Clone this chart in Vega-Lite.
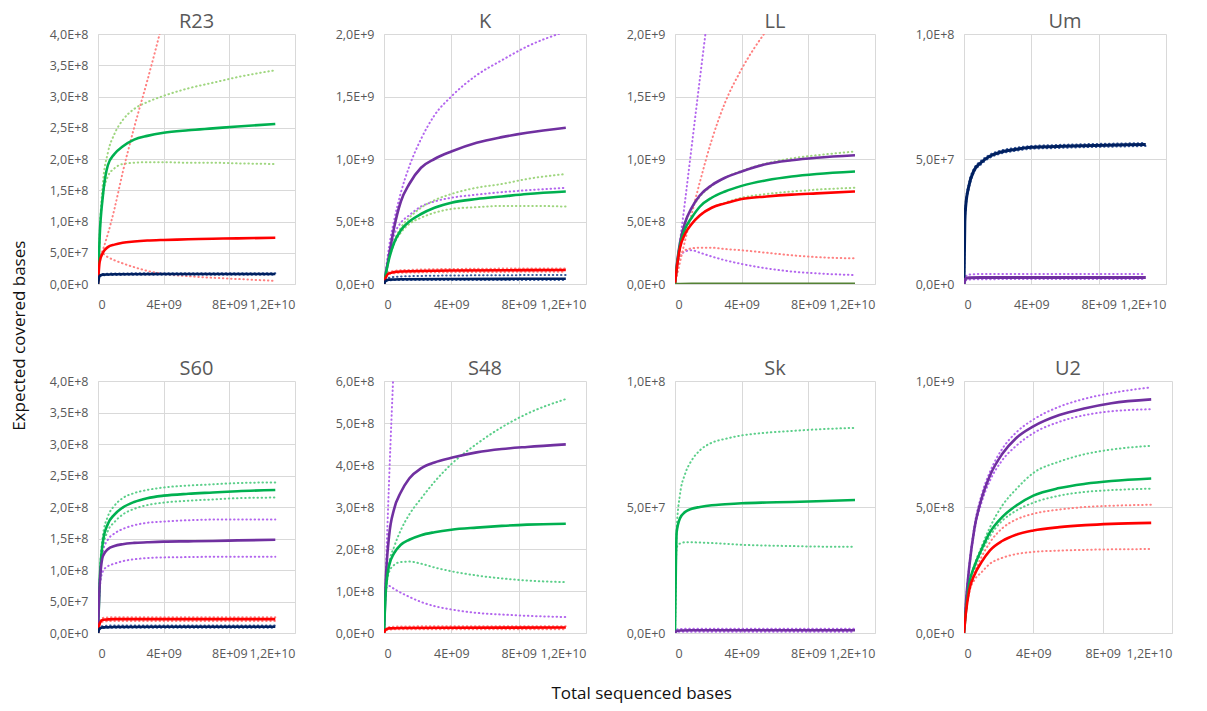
{
"$schema":"https://vega.github.io/schema/vega-lite/v6.json",
"padding":{"left":11,"top":12,"right":5,"bottom":5},
"config":{
 "font":"Open Sans",
 "view":{"stroke":null},
 "axis":{"grid":true,"gridColor":"#d9d9d9","domainColor":"#d9d9d9","ticks":false,"labelColor":"#595959","labelFont":"Open Sans","labelFontSize":12.5},
 "axisX":{"labelPadding":14},
 "axisY":{"labelPadding":10},
 "title":{"font":"Open Sans","fontSize":20,"fontWeight":"normal","color":"#595959","offset":-4}
},
"data":{"values":[
{"p":"R23","g":"green","x":0,"e":0,"h":0,"l":0},
{"p":"R23","g":"green","x":1e8,"e":0.75e8,"h":0.8e8,"l":0.75e8},
{"p":"R23","g":"green","x":3e8,"e":1.42e8,"h":1.62e8,"l":1.4e8},
{"p":"R23","g":"green","x":6e8,"e":1.9e8,"h":2.1e8,"l":1.72e8},
{"p":"R23","g":"green","x":1e9,"e":2.08e8,"h":2.4e8,"l":1.85e8},
{"p":"R23","g":"green","x":1.5e9,"e":2.2e8,"h":2.62e8,"l":1.92e8},
{"p":"R23","g":"green","x":2.2e9,"e":2.31e8,"h":2.8e8,"l":1.94e8},
{"p":"R23","g":"green","x":3e9,"e":2.37e8,"h":2.91e8,"l":1.95e8},
{"p":"R23","g":"green","x":4e9,"e":2.42e8,"h":3.01e8,"l":1.95e8},
{"p":"R23","g":"green","x":5.5e9,"e":2.46e8,"h":3.13e8,"l":1.94e8},
{"p":"R23","g":"green","x":7e9,"e":2.49e8,"h":3.22e8,"l":1.94e8},
{"p":"R23","g":"green","x":8.5e9,"e":2.52e8,"h":3.31e8,"l":1.93e8},
{"p":"R23","g":"green","x":1.08e10,"e":2.56e8,"h":3.42e8,"l":1.92e8},
{"p":"R23","g":"red","x":0,"e":0,"h":0,"l":0},
{"p":"R23","g":"red","x":1e8,"e":3.5e7,"h":4e7,"l":4.5e7},
{"p":"R23","g":"red","x":3e8,"e":5.0e7,"h":5.5e7,"l":4.8e7},
{"p":"R23","g":"red","x":6e8,"e":5.9e7,"h":8e7,"l":4.3e7},
{"p":"R23","g":"red","x":1e9,"e":6.3e7,"h":1.2e8,"l":3.8e7},
{"p":"R23","g":"red","x":1.5e9,"e":6.6e7,"h":1.78e8,"l":3.3e7},
{"p":"R23","g":"red","x":2.2e9,"e":6.8e7,"h":2.5e8,"l":2.7e7},
{"p":"R23","g":"red","x":3e9,"e":6.95e7,"h":3.25e8,"l":2.1e7},
{"p":"R23","g":"red","x":4e9,"e":7.05e7,"h":4.25e8,"l":1.6e7},
{"p":"R23","g":"red","x":5.5e9,"e":7.15e7,"h":null,"l":1.25e7},
{"p":"R23","g":"red","x":7e9,"e":7.25e7,"h":null,"l":1.0e7},
{"p":"R23","g":"red","x":8.5e9,"e":7.3e7,"h":null,"l":0.8e7},
{"p":"R23","g":"red","x":1.08e10,"e":7.4e7,"h":null,"l":0.5e7},
{"p":"R23","g":"navy","x":0,"e":0,"h":0,"l":0},
{"p":"R23","g":"navy","x":1e8,"e":1.3e7,"h":1.4e7,"l":1.2e7},
{"p":"R23","g":"navy","x":3e8,"e":1.5e7,"h":1.6e7,"l":1.4e7},
{"p":"R23","g":"navy","x":1e9,"e":1.55e7,"h":1.68e7,"l":1.45e7},
{"p":"R23","g":"navy","x":4e9,"e":1.6e7,"h":1.72e7,"l":1.48e7},
{"p":"R23","g":"navy","x":1.08e10,"e":1.6e7,"h":1.72e7,"l":1.48e7},

{"p":"K","g":"purple","x":0,"e":0,"h":0,"l":0},
{"p":"K","g":"purple","x":1e8,"e":0.8e8,"h":1.0e8,"l":0.8e8},
{"p":"K","g":"purple","x":3e8,"e":2.3e8,"h":3.0e8,"l":2.2e8},
{"p":"K","g":"purple","x":6e8,"e":4.5e8,"h":5.1e8,"l":3.9e8},
{"p":"K","g":"purple","x":1e9,"e":6.6e8,"h":7.3e8,"l":4.9e8},
{"p":"K","g":"purple","x":1.5e9,"e":8.0e8,"h":9.4e8,"l":5.5e8},
{"p":"K","g":"purple","x":2.2e9,"e":9.3e8,"h":11.6e8,"l":6.2e8},
{"p":"K","g":"purple","x":3e9,"e":10.0e8,"h":13.5e8,"l":6.6e8},
{"p":"K","g":"purple","x":4e9,"e":10.6e8,"h":15.0e8,"l":6.9e8},
{"p":"K","g":"purple","x":5.5e9,"e":11.3e8,"h":16.7e8,"l":7.15e8},
{"p":"K","g":"purple","x":7e9,"e":11.75e8,"h":17.9e8,"l":7.35e8},
{"p":"K","g":"purple","x":8.5e9,"e":12.1e8,"h":19.0e8,"l":7.5e8},
{"p":"K","g":"purple","x":1.08e10,"e":12.5e8,"h":20.2e8,"l":7.7e8},
{"p":"K","g":"green","x":0,"e":0,"h":0,"l":0},
{"p":"K","g":"green","x":1e8,"e":0.75e8,"h":0.75e8,"l":0.75e8},
{"p":"K","g":"green","x":3e8,"e":2.0e8,"h":2.0e8,"l":2.0e8},
{"p":"K","g":"green","x":6e8,"e":3.3e8,"h":3.4e8,"l":3.2e8},
{"p":"K","g":"green","x":1e9,"e":4.3e8,"h":4.5e8,"l":4.1e8},
{"p":"K","g":"green","x":1.5e9,"e":5.0e8,"h":5.3e8,"l":4.8e8},
{"p":"K","g":"green","x":2.2e9,"e":5.6e8,"h":6.1e8,"l":5.3e8},
{"p":"K","g":"green","x":3e9,"e":6.1e8,"h":6.7e8,"l":5.7e8},
{"p":"K","g":"green","x":4e9,"e":6.5e8,"h":7.2e8,"l":6.0e8},
{"p":"K","g":"green","x":5.5e9,"e":6.8e8,"h":7.7e8,"l":6.15e8},
{"p":"K","g":"green","x":7e9,"e":7.0e8,"h":8.0e8,"l":6.25e8},
{"p":"K","g":"green","x":8.5e9,"e":7.2e8,"h":8.4e8,"l":6.25e8},
{"p":"K","g":"green","x":1.08e10,"e":7.4e8,"h":8.8e8,"l":6.2e8},
{"p":"K","g":"red","x":0,"e":0,"h":0,"l":0},
{"p":"K","g":"red","x":1e8,"e":0.5e8,"h":0.55e8,"l":0.45e8},
{"p":"K","g":"red","x":3e8,"e":0.85e8,"h":0.95e8,"l":0.8e8},
{"p":"K","g":"red","x":1e9,"e":1.0e8,"h":1.1e8,"l":0.9e8},
{"p":"K","g":"red","x":4e9,"e":1.08e8,"h":1.2e8,"l":0.95e8},
{"p":"K","g":"red","x":1.08e10,"e":1.12e8,"h":1.25e8,"l":0.98e8},
{"p":"K","g":"navy","x":0,"e":0,"h":0,"l":0},
{"p":"K","g":"navy","x":1e8,"e":0.25e8,"h":0.3e8,"l":0.22e8},
{"p":"K","g":"navy","x":3e8,"e":0.35e8,"h":0.5e8,"l":0.3e8},
{"p":"K","g":"navy","x":1e9,"e":0.38e8,"h":0.6e8,"l":0.32e8},
{"p":"K","g":"navy","x":4e9,"e":0.4e8,"h":0.68e8,"l":0.33e8},
{"p":"K","g":"navy","x":1.08e10,"e":0.42e8,"h":0.72e8,"l":0.33e8},

{"p":"LL","g":"purple","x":0,"e":0,"h":0,"l":0},
{"p":"LL","g":"purple","x":1e8,"e":1.4e8,"h":1.2e8,"l":1.1e8},
{"p":"LL","g":"purple","x":3e8,"e":3.3e8,"h":3.4e8,"l":2.2e8},
{"p":"LL","g":"purple","x":6e8,"e":4.9e8,"h":6.6e8,"l":2.6e8},
{"p":"LL","g":"purple","x":1e9,"e":6.1e8,"h":11.0e8,"l":2.7e8},
{"p":"LL","g":"purple","x":1.5e9,"e":7.1e8,"h":16.5e8,"l":2.5e8},
{"p":"LL","g":"purple","x":2.2e9,"e":7.9e8,"h":24.0e8,"l":2.2e8},
{"p":"LL","g":"purple","x":3e9,"e":8.5e8,"h":null,"l":1.9e8},
{"p":"LL","g":"purple","x":4e9,"e":9.0e8,"h":null,"l":1.6e8},
{"p":"LL","g":"purple","x":5.5e9,"e":9.6e8,"h":null,"l":1.25e8},
{"p":"LL","g":"purple","x":7e9,"e":9.9e8,"h":null,"l":1.0e8},
{"p":"LL","g":"purple","x":8.5e9,"e":10.1e8,"h":null,"l":0.85e8},
{"p":"LL","g":"purple","x":1.08e10,"e":10.3e8,"h":null,"l":0.72e8},
{"p":"LL","g":"green","x":0,"e":0,"h":0,"l":0},
{"p":"LL","g":"green","x":1e8,"e":1.3e8,"h":1.4e8,"l":1.2e8},
{"p":"LL","g":"green","x":3e8,"e":3.1e8,"h":3.3e8,"l":2.9e8},
{"p":"LL","g":"green","x":6e8,"e":4.4e8,"h":4.9e8,"l":4.0e8},
{"p":"LL","g":"green","x":1e9,"e":5.3e8,"h":6.0e8,"l":4.8e8},
{"p":"LL","g":"green","x":1.5e9,"e":6.2e8,"h":7.0e8,"l":5.5e8},
{"p":"LL","g":"green","x":2.2e9,"e":6.9e8,"h":7.85e8,"l":6.1e8},
{"p":"LL","g":"green","x":3e9,"e":7.4e8,"h":8.5e8,"l":6.5e8},
{"p":"LL","g":"green","x":4e9,"e":7.85e8,"h":9.05e8,"l":6.9e8},
{"p":"LL","g":"green","x":5.5e9,"e":8.3e8,"h":9.65e8,"l":7.2e8},
{"p":"LL","g":"green","x":7e9,"e":8.6e8,"h":10.05e8,"l":7.4e8},
{"p":"LL","g":"green","x":8.5e9,"e":8.8e8,"h":10.3e8,"l":7.55e8},
{"p":"LL","g":"green","x":1.08e10,"e":9.0e8,"h":10.6e8,"l":7.7e8},
{"p":"LL","g":"red","x":0,"e":0,"h":0,"l":0},
{"p":"LL","g":"red","x":1e8,"e":1.2e8,"h":0.6e8,"l":1.1e8},
{"p":"LL","g":"red","x":3e8,"e":2.9e8,"h":1.75e8,"l":2.2e8},
{"p":"LL","g":"red","x":6e8,"e":4.0e8,"h":3.45e8,"l":2.7e8},
{"p":"LL","g":"red","x":1e9,"e":4.8e8,"h":5.6e8,"l":2.85e8},
{"p":"LL","g":"red","x":1.5e9,"e":5.5e8,"h":8.2e8,"l":2.9e8},
{"p":"LL","g":"red","x":2.2e9,"e":6.1e8,"h":11.5e8,"l":2.9e8},
{"p":"LL","g":"red","x":3e9,"e":6.45e8,"h":14.5e8,"l":2.8e8},
{"p":"LL","g":"red","x":4e9,"e":6.8e8,"h":17.2e8,"l":2.7e8},
{"p":"LL","g":"red","x":5.5e9,"e":7.0e8,"h":20.3e8,"l":2.5e8},
{"p":"LL","g":"red","x":7e9,"e":7.15e8,"h":null,"l":2.3e8},
{"p":"LL","g":"red","x":8.5e9,"e":7.25e8,"h":null,"l":2.15e8},
{"p":"LL","g":"red","x":1.08e10,"e":7.4e8,"h":null,"l":2.05e8},
{"p":"LL","g":"olive","x":0,"e":0,"h":null,"l":null},
{"p":"LL","g":"olive","x":1e9,"e":2e6,"h":null,"l":null},
{"p":"LL","g":"olive","x":1.08e10,"e":2e6,"h":null,"l":null},

{"p":"Um","g":"navy","x":0,"e":0,"h":0,"l":0},
{"p":"Um","g":"navy","x":5e7,"e":2.5e7,"h":2.6e7,"l":2.4e7},
{"p":"Um","g":"navy","x":1e8,"e":3.1e7,"h":3.2e7,"l":3.0e7},
{"p":"Um","g":"navy","x":3e8,"e":3.95e7,"h":4.05e7,"l":3.85e7},
{"p":"Um","g":"navy","x":6e8,"e":4.55e7,"h":4.62e7,"l":4.48e7},
{"p":"Um","g":"navy","x":1e9,"e":4.85e7,"h":4.92e7,"l":4.78e7},
{"p":"Um","g":"navy","x":1.5e9,"e":5.1e7,"h":5.16e7,"l":5.04e7},
{"p":"Um","g":"navy","x":2.2e9,"e":5.28e7,"h":5.34e7,"l":5.22e7},
{"p":"Um","g":"navy","x":3e9,"e":5.38e7,"h":5.44e7,"l":5.32e7},
{"p":"Um","g":"navy","x":4e9,"e":5.47e7,"h":5.52e7,"l":5.41e7},
{"p":"Um","g":"navy","x":5.5e9,"e":5.5e7,"h":5.56e7,"l":5.44e7},
{"p":"Um","g":"navy","x":7e9,"e":5.53e7,"h":5.59e7,"l":5.47e7},
{"p":"Um","g":"navy","x":8.5e9,"e":5.55e7,"h":5.61e7,"l":5.49e7},
{"p":"Um","g":"navy","x":1.08e10,"e":5.58e7,"h":5.64e7,"l":5.52e7},
{"p":"Um","g":"purple","x":0,"e":0,"h":0,"l":0},
{"p":"Um","g":"purple","x":1e8,"e":2.2e6,"h":3.0e6,"l":1.5e6},
{"p":"Um","g":"purple","x":3e8,"e":2.5e6,"h":3.8e6,"l":1.8e6},
{"p":"Um","g":"purple","x":1e9,"e":2.6e6,"h":4.0e6,"l":1.9e6},
{"p":"Um","g":"purple","x":4e9,"e":2.6e6,"h":4.0e6,"l":2.0e6},
{"p":"Um","g":"purple","x":1.08e10,"e":2.6e6,"h":4.0e6,"l":2.0e6},

{"p":"S60","g":"green","x":0,"e":0,"h":0,"l":0},
{"p":"S60","g":"green","x":1e8,"e":0.8e8,"h":0.85e8,"l":0.75e8},
{"p":"S60","g":"green","x":3e8,"e":1.45e8,"h":1.55e8,"l":1.35e8},
{"p":"S60","g":"green","x":6e8,"e":1.73e8,"h":1.85e8,"l":1.62e8},
{"p":"S60","g":"green","x":1e9,"e":1.88e8,"h":2.02e8,"l":1.76e8},
{"p":"S60","g":"green","x":1.5e9,"e":1.99e8,"h":2.14e8,"l":1.88e8},
{"p":"S60","g":"green","x":2.2e9,"e":2.08e8,"h":2.22e8,"l":1.97e8},
{"p":"S60","g":"green","x":3e9,"e":2.14e8,"h":2.27e8,"l":2.03e8},
{"p":"S60","g":"green","x":4e9,"e":2.18e8,"h":2.31e8,"l":2.07e8},
{"p":"S60","g":"green","x":5.5e9,"e":2.21e8,"h":2.34e8,"l":2.1e8},
{"p":"S60","g":"green","x":7e9,"e":2.23e8,"h":2.36e8,"l":2.12e8},
{"p":"S60","g":"green","x":8.5e9,"e":2.25e8,"h":2.38e8,"l":2.14e8},
{"p":"S60","g":"green","x":1.08e10,"e":2.27e8,"h":2.39e8,"l":2.15e8},
{"p":"S60","g":"purple","x":0,"e":0,"h":0,"l":0},
{"p":"S60","g":"purple","x":1e8,"e":0.75e8,"h":0.8e8,"l":0.7e8},
{"p":"S60","g":"purple","x":3e8,"e":1.22e8,"h":1.3e8,"l":0.98e8},
{"p":"S60","g":"purple","x":6e8,"e":1.33e8,"h":1.48e8,"l":1.06e8},
{"p":"S60","g":"purple","x":1e9,"e":1.38e8,"h":1.58e8,"l":1.1e8},
{"p":"S60","g":"purple","x":1.5e9,"e":1.41e8,"h":1.65e8,"l":1.14e8},
{"p":"S60","g":"purple","x":2.2e9,"e":1.43e8,"h":1.71e8,"l":1.17e8},
{"p":"S60","g":"purple","x":3e9,"e":1.44e8,"h":1.75e8,"l":1.19e8},
{"p":"S60","g":"purple","x":4e9,"e":1.45e8,"h":1.77e8,"l":1.2e8},
{"p":"S60","g":"purple","x":5.5e9,"e":1.455e8,"h":1.79e8,"l":1.205e8},
{"p":"S60","g":"purple","x":7e9,"e":1.46e8,"h":1.8e8,"l":1.21e8},
{"p":"S60","g":"purple","x":8.5e9,"e":1.47e8,"h":1.8e8,"l":1.21e8},
{"p":"S60","g":"purple","x":1.08e10,"e":1.48e8,"h":1.8e8,"l":1.21e8},
{"p":"S60","g":"red","x":0,"e":0,"h":0,"l":0},
{"p":"S60","g":"red","x":1e8,"e":1.5e7,"h":1.7e7,"l":1.3e7},
{"p":"S60","g":"red","x":3e8,"e":2.1e7,"h":2.4e7,"l":1.8e7},
{"p":"S60","g":"red","x":1e9,"e":2.2e7,"h":2.5e7,"l":1.9e7},
{"p":"S60","g":"red","x":4e9,"e":2.2e7,"h":2.5e7,"l":1.9e7},
{"p":"S60","g":"red","x":1.08e10,"e":2.2e7,"h":2.5e7,"l":1.9e7},
{"p":"S60","g":"navy","x":0,"e":0,"h":0,"l":0},
{"p":"S60","g":"navy","x":1e8,"e":0.7e7,"h":0.8e7,"l":0.6e7},
{"p":"S60","g":"navy","x":3e8,"e":0.9e7,"h":1.1e7,"l":0.8e7},
{"p":"S60","g":"navy","x":1e9,"e":0.95e7,"h":1.2e7,"l":0.85e7},
{"p":"S60","g":"navy","x":4e9,"e":1.0e7,"h":1.2e7,"l":0.85e7},
{"p":"S60","g":"navy","x":1.08e10,"e":1.0e7,"h":1.2e7,"l":0.85e7},

{"p":"S48","g":"purple","x":0,"e":0,"h":0,"l":0},
{"p":"S48","g":"purple","x":1e8,"e":1.2e8,"h":1.3e8,"l":1.05e8},
{"p":"S48","g":"purple","x":3e8,"e":2.3e8,"h":3.6e8,"l":1.12e8},
{"p":"S48","g":"purple","x":6e8,"e":2.95e8,"h":6.6e8,"l":1.05e8},
{"p":"S48","g":"purple","x":1e9,"e":3.35e8,"h":null,"l":0.96e8},
{"p":"S48","g":"purple","x":1.5e9,"e":3.68e8,"h":null,"l":0.86e8},
{"p":"S48","g":"purple","x":2.2e9,"e":3.92e8,"h":null,"l":0.74e8},
{"p":"S48","g":"purple","x":3e9,"e":4.06e8,"h":null,"l":0.64e8},
{"p":"S48","g":"purple","x":4e9,"e":4.17e8,"h":null,"l":0.56e8},
{"p":"S48","g":"purple","x":5.5e9,"e":4.3e8,"h":null,"l":0.48e8},
{"p":"S48","g":"purple","x":7e9,"e":4.38e8,"h":null,"l":0.44e8},
{"p":"S48","g":"purple","x":8.5e9,"e":4.43e8,"h":null,"l":0.41e8},
{"p":"S48","g":"purple","x":1.08e10,"e":4.49e8,"h":null,"l":0.38e8},
{"p":"S48","g":"green","x":0,"e":0,"h":0,"l":0},
{"p":"S48","g":"green","x":1e8,"e":0.95e8,"h":1.0e8,"l":0.95e8},
{"p":"S48","g":"green","x":3e8,"e":1.6e8,"h":1.65e8,"l":1.45e8},
{"p":"S48","g":"green","x":6e8,"e":1.9e8,"h":2.05e8,"l":1.62e8},
{"p":"S48","g":"green","x":1e9,"e":2.1e8,"h":2.45e8,"l":1.69e8},
{"p":"S48","g":"green","x":1.5e9,"e":2.22e8,"h":2.82e8,"l":1.7e8},
{"p":"S48","g":"green","x":2.2e9,"e":2.33e8,"h":3.2e8,"l":1.65e8},
{"p":"S48","g":"green","x":3e9,"e":2.4e8,"h":3.6e8,"l":1.56e8},
{"p":"S48","g":"green","x":4e9,"e":2.46e8,"h":4.02e8,"l":1.47e8},
{"p":"S48","g":"green","x":5.5e9,"e":2.51e8,"h":4.5e8,"l":1.37e8},
{"p":"S48","g":"green","x":7e9,"e":2.55e8,"h":4.9e8,"l":1.3e8},
{"p":"S48","g":"green","x":8.5e9,"e":2.58e8,"h":5.22e8,"l":1.25e8},
{"p":"S48","g":"green","x":1.08e10,"e":2.6e8,"h":5.57e8,"l":1.21e8},
{"p":"S48","g":"red","x":0,"e":0,"h":0,"l":0},
{"p":"S48","g":"red","x":1e8,"e":0.8e7,"h":1.0e7,"l":0.6e7},
{"p":"S48","g":"red","x":3e8,"e":1.1e7,"h":1.4e7,"l":0.8e7},
{"p":"S48","g":"red","x":1e9,"e":1.2e7,"h":1.55e7,"l":0.9e7},
{"p":"S48","g":"red","x":4e9,"e":1.25e7,"h":1.6e7,"l":0.9e7},
{"p":"S48","g":"red","x":1.08e10,"e":1.3e7,"h":1.6e7,"l":0.9e7},

{"p":"Sk","g":"green","x":0,"e":0,"h":0,"l":0},
{"p":"Sk","g":"green","x":5e7,"e":2.6e7,"h":2.7e7,"l":2.5e7},
{"p":"Sk","g":"green","x":1e8,"e":4.0e7,"h":4.1e7,"l":3.4e7},
{"p":"Sk","g":"green","x":3e8,"e":4.55e7,"h":5.5e7,"l":3.55e7},
{"p":"Sk","g":"green","x":6e8,"e":4.8e7,"h":6.3e7,"l":3.6e7},
{"p":"Sk","g":"green","x":1e9,"e":4.93e7,"h":6.85e7,"l":3.6e7},
{"p":"Sk","g":"green","x":1.5e9,"e":5.0e7,"h":7.25e7,"l":3.59e7},
{"p":"Sk","g":"green","x":2.2e9,"e":5.07e7,"h":7.55e7,"l":3.57e7},
{"p":"Sk","g":"green","x":3e9,"e":5.11e7,"h":7.7e7,"l":3.54e7},
{"p":"Sk","g":"green","x":4e9,"e":5.15e7,"h":7.84e7,"l":3.5e7},
{"p":"Sk","g":"green","x":5.5e9,"e":5.18e7,"h":7.95e7,"l":3.47e7},
{"p":"Sk","g":"green","x":7e9,"e":5.2e7,"h":8.02e7,"l":3.45e7},
{"p":"Sk","g":"green","x":8.5e9,"e":5.23e7,"h":8.08e7,"l":3.43e7},
{"p":"Sk","g":"green","x":1.08e10,"e":5.28e7,"h":8.14e7,"l":3.42e7},
{"p":"Sk","g":"purple","x":0,"e":0,"h":0,"l":0},
{"p":"Sk","g":"purple","x":1e8,"e":0.8e6,"h":1.3e6,"l":0.4e6},
{"p":"Sk","g":"purple","x":3e8,"e":1.0e6,"h":1.6e6,"l":0.5e6},
{"p":"Sk","g":"purple","x":1e9,"e":1.1e6,"h":1.7e6,"l":0.5e6},
{"p":"Sk","g":"purple","x":4e9,"e":1.1e6,"h":1.7e6,"l":0.5e6},
{"p":"Sk","g":"purple","x":1.08e10,"e":1.1e6,"h":1.7e6,"l":0.5e6},

{"p":"U2","g":"purple","x":0,"e":0,"h":0,"l":0},
{"p":"U2","g":"purple","x":1e8,"e":1.1e8,"h":1.1e8,"l":1.1e8},
{"p":"U2","g":"purple","x":3e8,"e":2.6e8,"h":2.65e8,"l":2.55e8},
{"p":"U2","g":"purple","x":6e8,"e":4.15e8,"h":4.25e8,"l":4.05e8},
{"p":"U2","g":"purple","x":1e9,"e":5.3e8,"h":5.45e8,"l":5.15e8},
{"p":"U2","g":"purple","x":1.5e9,"e":6.25e8,"h":6.4e8,"l":6.05e8},
{"p":"U2","g":"purple","x":2.2e9,"e":7.1e8,"h":7.3e8,"l":6.85e8},
{"p":"U2","g":"purple","x":3e9,"e":7.73e8,"h":7.95e8,"l":7.42e8},
{"p":"U2","g":"purple","x":4e9,"e":8.2e8,"h":8.47e8,"l":7.93e8},
{"p":"U2","g":"purple","x":5.5e9,"e":8.65e8,"h":8.98e8,"l":8.38e8},
{"p":"U2","g":"purple","x":7e9,"e":8.92e8,"h":9.3e8,"l":8.65e8},
{"p":"U2","g":"purple","x":8.5e9,"e":9.12e8,"h":9.52e8,"l":8.8e8},
{"p":"U2","g":"purple","x":1.08e10,"e":9.27e8,"h":9.75e8,"l":8.88e8},
{"p":"U2","g":"green","x":0,"e":0,"h":0,"l":0},
{"p":"U2","g":"green","x":1e8,"e":0.8e8,"h":0.8e8,"l":0.8e8},
{"p":"U2","g":"green","x":3e8,"e":1.95e8,"h":1.95e8,"l":1.95e8},
{"p":"U2","g":"green","x":6e8,"e":2.65e8,"h":2.7e8,"l":2.6e8},
{"p":"U2","g":"green","x":1e9,"e":3.3e8,"h":3.4e8,"l":3.2e8},
{"p":"U2","g":"green","x":1.5e9,"e":4.0e8,"h":4.2e8,"l":3.85e8},
{"p":"U2","g":"green","x":2.2e9,"e":4.6e8,"h":5.05e8,"l":4.45e8},
{"p":"U2","g":"green","x":3e9,"e":5.05e8,"h":5.7e8,"l":4.85e8},
{"p":"U2","g":"green","x":4e9,"e":5.45e8,"h":6.35e8,"l":5.17e8},
{"p":"U2","g":"green","x":5.5e9,"e":5.75e8,"h":6.8e8,"l":5.45e8},
{"p":"U2","g":"green","x":7e9,"e":5.92e8,"h":7.1e8,"l":5.6e8},
{"p":"U2","g":"green","x":8.5e9,"e":6.03e8,"h":7.28e8,"l":5.67e8},
{"p":"U2","g":"green","x":1.08e10,"e":6.13e8,"h":7.43e8,"l":5.73e8},
{"p":"U2","g":"red","x":0,"e":0,"h":0,"l":0},
{"p":"U2","g":"red","x":1e8,"e":0.75e8,"h":0.75e8,"l":0.72e8},
{"p":"U2","g":"red","x":3e8,"e":1.7e8,"h":1.75e8,"l":1.6e8},
{"p":"U2","g":"red","x":6e8,"e":2.3e8,"h":2.4e8,"l":2.1e8},
{"p":"U2","g":"red","x":1e9,"e":2.8e8,"h":3.0e8,"l":2.4e8},
{"p":"U2","g":"red","x":1.5e9,"e":3.28e8,"h":3.6e8,"l":2.75e8},
{"p":"U2","g":"red","x":2.2e9,"e":3.65e8,"h":4.15e8,"l":2.98e8},
{"p":"U2","g":"red","x":3e9,"e":3.9e8,"h":4.5e8,"l":3.13e8},
{"p":"U2","g":"red","x":4e9,"e":4.07e8,"h":4.73e8,"l":3.22e8},
{"p":"U2","g":"red","x":5.5e9,"e":4.2e8,"h":4.9e8,"l":3.27e8},
{"p":"U2","g":"red","x":7e9,"e":4.28e8,"h":5.0e8,"l":3.3e8},
{"p":"U2","g":"red","x":8.5e9,"e":4.33e8,"h":5.05e8,"l":3.32e8},
{"p":"U2","g":"red","x":1.08e10,"e":4.37e8,"h":5.09e8,"l":3.33e8}
]},
"title":{"text":"Total sequenced bases","orient":"bottom","anchor":"middle","fontSize":17,"color":"#111111","offset":26,"dx":50},
"vconcat":[{
 "title":{"text":"Expected covered bases","orient":"left","anchor":"middle","fontSize":17,"color":"#111111","offset":20},
 "bounds":"flush",
 "columns":4,
 "spacing":{"row":97,"column":89},
 "concat":[
   {"width":197,"height":250,"title":"R23",
    "transform":[{"filter":"datum.p=='R23'"},{"fold":["e","h","l"],"as":["k","y"]},{"filter":"isValid(datum.y)"}],
    "encoding":{
     "x":{"field":"x","type":"quantitative","scale":{"domain":[0,12000000000],"nice":false},"axis":{"title":null,"values":[0,4000000000,8000000000,12000000000],"labelExpr":"datum.value==0?'0':datum.value==4e9?'4E+09':datum.value==8e9?'8E+09':'1,2E+10'"}},
     "y":{"field":"y","type":"quantitative","scale":{"domain":[0,400000000],"nice":false},"axis":{"title":null,"values":[0,50000000,100000000,150000000,200000000,250000000,300000000,350000000,400000000],"labelExpr":"replace(upper(format(datum.value,'.1e')),'.',',')"}}},
    "layer":[
     {"transform":[{"filter":"datum.k!='e'"}],"mark":{"type":"line","interpolate":"monotone","clip":true,"strokeWidth":2,"strokeDash":[0.5,3.6],"strokeCap":"round"},
      "encoding":{"color":{"field":"g","type":"nominal","legend":null,"scale":{"domain":["green","red","purple","navy","olive"],"range":["#9fd67f","#ff8080","#b366ee","#3a5a9a","#8fbc6a"]}},"detail":{"field":"k"}}},
     {"transform":[{"filter":"datum.k=='e'"}],"mark":{"type":"line","interpolate":"monotone","clip":true,"strokeWidth":2.6},
      "encoding":{"color":{"field":"g","type":"nominal","legend":null,"scale":{"domain":["green","red","purple","navy","olive"],"range":["#00b050","#ff0000","#7030a0","#002060","#548235"]}}}}
    ],
    "resolve":{"scale":{"color":"independent"}}},
   {"width":202,"height":250,"title":"K",
    "transform":[{"filter":"datum.p=='K'"},{"fold":["e","h","l"],"as":["k","y"]},{"filter":"isValid(datum.y)"}],
    "encoding":{
     "x":{"field":"x","type":"quantitative","scale":{"domain":[0,12000000000],"nice":false},"axis":{"title":null,"values":[0,4000000000,8000000000,12000000000],"labelExpr":"datum.value==0?'0':datum.value==4e9?'4E+09':datum.value==8e9?'8E+09':'1,2E+10'"}},
     "y":{"field":"y","type":"quantitative","scale":{"domain":[0,2000000000],"nice":false},"axis":{"title":null,"values":[0,500000000,1000000000,1500000000,2000000000],"labelExpr":"replace(upper(format(datum.value,'.1e')),'.',',')"}}},
    "layer":[
     {"transform":[{"filter":"datum.k!='e'"}],"mark":{"type":"line","interpolate":"monotone","clip":true,"strokeWidth":2,"strokeDash":[0.5,3.6],"strokeCap":"round"},
      "encoding":{"color":{"field":"g","type":"nominal","legend":null,"scale":{"domain":["green","red","purple","navy","olive"],"range":["#9fd67f","#ff8080","#b366ee","#3a5a9a","#8fbc6a"]}},"detail":{"field":"k"}}},
     {"transform":[{"filter":"datum.k=='e'"}],"mark":{"type":"line","interpolate":"monotone","clip":true,"strokeWidth":2.6},
      "encoding":{"color":{"field":"g","type":"nominal","legend":null,"scale":{"domain":["green","red","purple","navy","olive"],"range":["#00b050","#ff0000","#7030a0","#002060","#548235"]}}}}
    ],
    "resolve":{"scale":{"color":"independent"}}},
   {"width":200,"height":250,"title":"LL",
    "transform":[{"filter":"datum.p=='LL'"},{"fold":["e","h","l"],"as":["k","y"]},{"filter":"isValid(datum.y)"}],
    "encoding":{
     "x":{"field":"x","type":"quantitative","scale":{"domain":[0,12000000000],"nice":false},"axis":{"title":null,"values":[0,4000000000,8000000000,12000000000],"labelExpr":"datum.value==0?'0':datum.value==4e9?'4E+09':datum.value==8e9?'8E+09':'1,2E+10'"}},
     "y":{"field":"y","type":"quantitative","scale":{"domain":[0,2000000000],"nice":false},"axis":{"title":null,"values":[0,500000000,1000000000,1500000000,2000000000],"labelExpr":"replace(upper(format(datum.value,'.1e')),'.',',')"}}},
    "layer":[
     {"transform":[{"filter":"datum.k!='e'"}],"mark":{"type":"line","interpolate":"monotone","clip":true,"strokeWidth":2,"strokeDash":[0.5,3.6],"strokeCap":"round"},
      "encoding":{"color":{"field":"g","type":"nominal","legend":null,"scale":{"domain":["green","red","purple","navy","olive"],"range":["#9fd67f","#ff8080","#b366ee","#3a5a9a","#8fbc6a"]}},"detail":{"field":"k"}}},
     {"transform":[{"filter":"datum.k=='e'"}],"mark":{"type":"line","interpolate":"monotone","clip":true,"strokeWidth":2.6},
      "encoding":{"color":{"field":"g","type":"nominal","legend":null,"scale":{"domain":["green","red","purple","navy","olive"],"range":["#00b050","#ff0000","#7030a0","#002060","#548235"]}}}}
    ],
    "resolve":{"scale":{"color":"independent"}}},
   {"width":202,"height":250,"title":"Um",
    "transform":[{"filter":"datum.p=='Um'"},{"fold":["e","h","l"],"as":["k","y"]},{"filter":"isValid(datum.y)"}],
    "encoding":{
     "x":{"field":"x","type":"quantitative","scale":{"domain":[0,12000000000],"nice":false},"axis":{"title":null,"values":[0,4000000000,8000000000,12000000000],"labelExpr":"datum.value==0?'0':datum.value==4e9?'4E+09':datum.value==8e9?'8E+09':'1,2E+10'"}},
     "y":{"field":"y","type":"quantitative","scale":{"domain":[0,100000000],"nice":false},"axis":{"title":null,"values":[0,50000000,100000000],"labelExpr":"replace(upper(format(datum.value,'.1e')),'.',',')"}}},
    "layer":[
     {"transform":[{"filter":"datum.k!='e'"}],"mark":{"type":"line","interpolate":"monotone","clip":true,"strokeWidth":2,"strokeDash":[0.5,3.6],"strokeCap":"round"},
      "encoding":{"color":{"field":"g","type":"nominal","legend":null,"scale":{"domain":["green","red","purple","navy","olive"],"range":["#9fd67f","#ff8080","#b366ee","#3a5a9a","#8fbc6a"]}},"detail":{"field":"k"}}},
     {"transform":[{"filter":"datum.k=='e'"}],"mark":{"type":"line","interpolate":"monotone","clip":true,"strokeWidth":3},
      "encoding":{"color":{"field":"g","type":"nominal","legend":null,"scale":{"domain":["green","red","purple","navy","olive"],"range":["#00b050","#ff0000","#7030a0","#002060","#548235"]}}}}
    ],
    "resolve":{"scale":{"color":"independent"}}},
   {"width":197,"height":252,"title":"S60",
    "transform":[{"filter":"datum.p=='S60'"},{"fold":["e","h","l"],"as":["k","y"]},{"filter":"isValid(datum.y)"}],
    "encoding":{
     "x":{"field":"x","type":"quantitative","scale":{"domain":[0,12000000000],"nice":false},"axis":{"title":null,"values":[0,4000000000,8000000000,12000000000],"labelExpr":"datum.value==0?'0':datum.value==4e9?'4E+09':datum.value==8e9?'8E+09':'1,2E+10'"}},
     "y":{"field":"y","type":"quantitative","scale":{"domain":[0,400000000],"nice":false},"axis":{"title":null,"values":[0,50000000,100000000,150000000,200000000,250000000,300000000,350000000,400000000],"labelExpr":"replace(upper(format(datum.value,'.1e')),'.',',')"}}},
    "layer":[
     {"transform":[{"filter":"datum.k!='e'"}],"mark":{"type":"line","interpolate":"monotone","clip":true,"strokeWidth":2,"strokeDash":[0.5,3.6],"strokeCap":"round"},
      "encoding":{"color":{"field":"g","type":"nominal","legend":null,"scale":{"domain":["green","red","purple","navy","olive"],"range":["#5ccf8a","#ff8080","#b366ee","#3a5a9a","#8fbc6a"]}},"detail":{"field":"k"}}},
     {"transform":[{"filter":"datum.k=='e'"}],"mark":{"type":"line","interpolate":"monotone","clip":true,"strokeWidth":2.6},
      "encoding":{"color":{"field":"g","type":"nominal","legend":null,"scale":{"domain":["green","red","purple","navy","olive"],"range":["#00b050","#ff0000","#7030a0","#002060","#548235"]}}}}
    ],
    "resolve":{"scale":{"color":"independent"}}},
   {"width":202,"height":252,"title":"S48",
    "transform":[{"filter":"datum.p=='S48'"},{"fold":["e","h","l"],"as":["k","y"]},{"filter":"isValid(datum.y)"}],
    "encoding":{
     "x":{"field":"x","type":"quantitative","scale":{"domain":[0,12000000000],"nice":false},"axis":{"title":null,"values":[0,4000000000,8000000000,12000000000],"labelExpr":"datum.value==0?'0':datum.value==4e9?'4E+09':datum.value==8e9?'8E+09':'1,2E+10'"}},
     "y":{"field":"y","type":"quantitative","scale":{"domain":[0,600000000],"nice":false},"axis":{"title":null,"values":[0,100000000,200000000,300000000,400000000,500000000,600000000],"labelExpr":"replace(upper(format(datum.value,'.1e')),'.',',')"}}},
    "layer":[
     {"transform":[{"filter":"datum.k!='e'"}],"mark":{"type":"line","interpolate":"monotone","clip":true,"strokeWidth":2,"strokeDash":[0.5,3.6],"strokeCap":"round"},
      "encoding":{"color":{"field":"g","type":"nominal","legend":null,"scale":{"domain":["green","red","purple","navy","olive"],"range":["#5ccf8a","#ff8080","#b366ee","#3a5a9a","#8fbc6a"]}},"detail":{"field":"k"}}},
     {"transform":[{"filter":"datum.k=='e'"}],"mark":{"type":"line","interpolate":"monotone","clip":true,"strokeWidth":2.6},
      "encoding":{"color":{"field":"g","type":"nominal","legend":null,"scale":{"domain":["green","red","purple","navy","olive"],"range":["#00b050","#ff0000","#7030a0","#002060","#548235"]}}}}
    ],
    "resolve":{"scale":{"color":"independent"}}},
   {"width":200,"height":252,"title":"Sk",
    "transform":[{"filter":"datum.p=='Sk'"},{"fold":["e","h","l"],"as":["k","y"]},{"filter":"isValid(datum.y)"}],
    "encoding":{
     "x":{"field":"x","type":"quantitative","scale":{"domain":[0,12000000000],"nice":false},"axis":{"title":null,"values":[0,4000000000,8000000000,12000000000],"labelExpr":"datum.value==0?'0':datum.value==4e9?'4E+09':datum.value==8e9?'8E+09':'1,2E+10'"}},
     "y":{"field":"y","type":"quantitative","scale":{"domain":[0,100000000],"nice":false},"axis":{"title":null,"values":[0,50000000,100000000],"labelExpr":"replace(upper(format(datum.value,'.1e')),'.',',')"}}},
    "layer":[
     {"transform":[{"filter":"datum.k!='e'"}],"mark":{"type":"line","interpolate":"monotone","clip":true,"strokeWidth":2,"strokeDash":[0.5,3.6],"strokeCap":"round"},
      "encoding":{"color":{"field":"g","type":"nominal","legend":null,"scale":{"domain":["green","red","purple","navy","olive"],"range":["#5ccf8a","#ff8080","#b366ee","#3a5a9a","#8fbc6a"]}},"detail":{"field":"k"}}},
     {"transform":[{"filter":"datum.k=='e'"}],"mark":{"type":"line","interpolate":"monotone","clip":true,"strokeWidth":2.6},
      "encoding":{"color":{"field":"g","type":"nominal","legend":null,"scale":{"domain":["green","red","purple","navy","olive"],"range":["#00b050","#ff0000","#7030a0","#002060","#548235"]}}}}
    ],
    "resolve":{"scale":{"color":"independent"}}},
   {"width":208,"height":252,"title":"U2",
    "transform":[{"filter":"datum.p=='U2'"},{"fold":["e","h","l"],"as":["k","y"]},{"filter":"isValid(datum.y)"}],
    "encoding":{
     "x":{"field":"x","type":"quantitative","scale":{"domain":[0,12000000000],"nice":false},"axis":{"title":null,"values":[0,4000000000,8000000000,12000000000],"labelExpr":"datum.value==0?'0':datum.value==4e9?'4E+09':datum.value==8e9?'8E+09':'1,2E+10'"}},
     "y":{"field":"y","type":"quantitative","scale":{"domain":[0,1000000000],"nice":false},"axis":{"title":null,"values":[0,500000000,1000000000],"labelExpr":"replace(upper(format(datum.value,'.1e')),'.',',')"}}},
    "layer":[
     {"transform":[{"filter":"datum.k!='e'"}],"mark":{"type":"line","interpolate":"monotone","clip":true,"strokeWidth":2,"strokeDash":[0.5,3.6],"strokeCap":"round"},
      "encoding":{"color":{"field":"g","type":"nominal","legend":null,"scale":{"domain":["green","red","purple","navy","olive"],"range":["#5ccf8a","#ff8080","#b366ee","#3a5a9a","#8fbc6a"]}},"detail":{"field":"k"}}},
     {"transform":[{"filter":"datum.k=='e'"}],"mark":{"type":"line","interpolate":"monotone","clip":true,"strokeWidth":2.6},
      "encoding":{"color":{"field":"g","type":"nominal","legend":null,"scale":{"domain":["green","red","purple","navy","olive"],"range":["#00b050","#ff0000","#7030a0","#002060","#548235"]}}}}
    ],
    "resolve":{"scale":{"color":"independent"}}}
 ]
}]
}
